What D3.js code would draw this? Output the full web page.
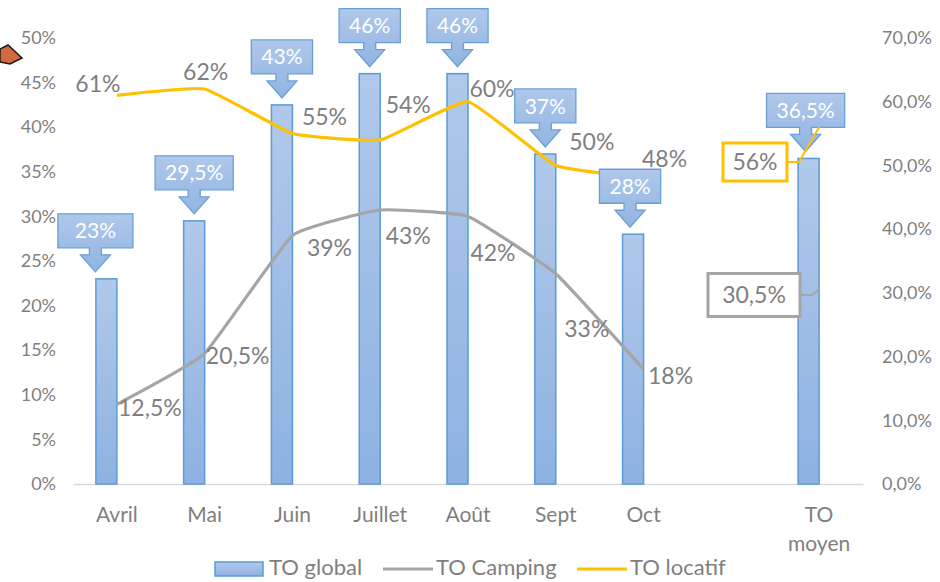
<!DOCTYPE html>
<html>
<head>
<meta charset="utf-8">
<script src="https://cdn.jsdelivr.net/npm/d3@7"></script>
<style>
  body { margin: 0; background: #fff; }
  svg text { font-family: Lato, "Open Sans", sans-serif; fill: #7f7f7f; }
</style>
</head>
<body>
<div id="chart"></div>
<script>
const width = 940, height = 582;

// data
const categories = ["Avril", "Mai", "Juin", "Juillet", "Août", "Sept", "Oct", "", "TO moyen"];
const months = ["Avril", "Mai", "Juin", "Juillet", "Août", "Sept", "Oct"];
const toGlobal = [23, 29.5, 42.5, 46, 46, 37, 28, null, 36.5];
const toGlobalLabels = ["23%", "29,5%", "43%", "46%", "46%", "37%", "28%", "", "36,5%"];
const toCamping = [12.5, 20.5, 39, 43, 42, 33, 18];
const toCampingLabels = ["12,5%", "20,5%", "39%", "43%", "42%", "33%", "18%"];
const toLocatif = [61, 62, 55, 54, 60, 50, 48];
const toLocatifLabels = ["61%", "62%", "55%", "54%", "60%", "50%", "48%"];
const moyenCamping = 30.5, moyenCampingLabel = "30,5%";
const moyenLocatif = 56, moyenLocatifLabel = "56%";
const leftTicks = [0, 5, 10, 15, 20, 25, 30, 35, 40, 45, 50];
const rightTicks = [0, 10, 20, 30, 40, 50, 60, 70];

// label placement (offset from the point)
const locatifOffsets = [[-19, -11], [1, -17], [32, -17], [28, -35], [24, -13], [36, -23], [21, -19]];
const campingOffsets = [[33, 4], [33, 3], [37, 12], [28, 26], [25, 37], [31, 55], [27, 7]];
const callShift = [-11, 0, 0, 0, 0, 0, -3, 0, -3];

const svg = d3.select("#chart").append("svg")
    .attr("width", width)
    .attr("height", height);

const defs = svg.append("defs");
const g1 = defs.append("linearGradient").attr("id", "barGrad").attr("x1", 0).attr("y1", 0).attr("x2", 0).attr("y2", 1);
g1.append("stop").attr("offset", "0%").attr("stop-color", "#b1c9ea");
g1.append("stop").attr("offset", "100%").attr("stop-color", "#8db2e2");
const g2 = defs.append("linearGradient").attr("id", "callGrad").attr("x1", 0).attr("y1", 0).attr("x2", 0).attr("y2", 1);
g2.append("stop").attr("offset", "0%").attr("stop-color", "#afc8ea");
g2.append("stop").attr("offset", "100%").attr("stop-color", "#90b4e2");

const x = d3.scaleBand()
    .domain(categories)
    .range([73, 863])
    .padding(0);

const yL = d3.scaleLinear().domain([0, 50]).range([484, 38]);
const yR = d3.scaleLinear().domain([0, 70]).range([484, 38]);

const cx = c => x(c) + x.bandwidth() / 2;
const barW = 21;

// left axis
const leftAxis = d3.axisLeft(yL).tickValues(leftTicks).tickSize(0).tickFormat(d => d + "%");
const gl = svg.append("g").attr("transform", "translate(56,0)").call(leftAxis);
gl.select(".domain").remove();
gl.selectAll("text").style("font-size", "18px").attr("x", 0);

// right axis
const rightAxis = d3.axisRight(yR).tickValues(rightTicks).tickSize(0)
    .tickFormat(d => d3.format(".1f")(d).replace(".", ",") + "%");
const gr = svg.append("g").attr("transform", "translate(882,0)").call(rightAxis);
gr.select(".domain").remove();
gr.selectAll("text").style("font-size", "18px").attr("x", 0);

// bottom axis
const bottomAxis = d3.axisBottom(x).tickSize(0).tickFormat("");
const gb = svg.append("g").attr("transform", "translate(0,484)").call(bottomAxis);
gb.select(".domain").attr("stroke", "#d9d9d9").attr("stroke-width", 1.3);

categories.forEach(c => {
    if (!c) return;
    const parts = c === "TO moyen" ? ["TO", "moyen"] : [c];
    parts.forEach((p, i) => {
        svg.append("text")
            .attr("x", cx(c))
            .attr("y", 522 + i * 29)
            .attr("text-anchor", "middle")
            .style("font-size", "21px")
            .text(p);
    });
});

// bars
const barData = categories.map((c, i) => ({ c, v: toGlobal[i], label: toGlobalLabels[i], shift: callShift[i] }))
    .filter(d => d.v != null);

svg.selectAll("rect.bar")
    .data(barData)
    .enter().append("rect")
    .attr("class", "bar")
    .attr("x", d => cx(d.c) - barW)
    .attr("y", d => yL(d.v))
    .attr("width", barW)
    .attr("height", d => yL(0) - yL(d.v))
    .attr("fill", "url(#barGrad)")
    .attr("stroke", "#5b9bd5")
    .attr("stroke-width", 1.5);

// lines
const line = d3.line()
    .x(d => cx(d[0]))
    .y(d => yR(d[1]))
    .curve(d3.curveCardinal.tension(0.65));

const campPts = months.map((m, i) => [m, toCamping[i]]);
const locPts = months.map((m, i) => [m, toLocatif[i]]);

svg.append("path").datum(campPts)
    .attr("d", line)
    .attr("fill", "none")
    .attr("stroke", "#a5a5a5")
    .attr("stroke-width", 3.2);

svg.append("path").datum(locPts)
    .attr("d", line)
    .attr("fill", "none")
    .attr("stroke", "#ffc000")
    .attr("stroke-width", 3.2);

// line labels
svg.selectAll("text.loc")
    .data(locPts)
    .enter().append("text")
    .attr("class", "loc")
    .attr("x", (d, i) => cx(d[0]) + locatifOffsets[i][0])
    .attr("y", (d, i) => yR(d[1]) + locatifOffsets[i][1])
    .attr("text-anchor", "middle")
    .attr("dy", "0.35em")
    .style("font-size", "23px")
    .text((d, i) => toLocatifLabels[i]);

svg.selectAll("text.camp")
    .data(campPts)
    .enter().append("text")
    .attr("class", "camp")
    .attr("x", (d, i) => cx(d[0]) + campingOffsets[i][0])
    .attr("y", (d, i) => yR(d[1]) + campingOffsets[i][1])
    .attr("text-anchor", "middle")
    .attr("dy", "0.35em")
    .style("font-size", "23px")
    .text((d, i) => toCampingLabels[i]);

// callouts on bars
const callH = 34, stemH = 7, stemW = 12, triH = 17, triW = 30, gap = 7;
barData.forEach(d => {
    const c = cx(d.c) - barW / 2 + d.shift;
    const tip = yL(d.v) - gap;
    const boxB = tip - triH - stemH;
    const boxT = boxB - callH;
    const tmp = svg.append("text").style("font-size", "21px").text(d.label);
    const tw = tmp.node().getComputedTextLength();
    tmp.remove();
    const bw = d.c === "Avril" ? 75 : tw + 20;
    const pts = [
        [c - bw / 2, boxT], [c + bw / 2, boxT], [c + bw / 2, boxB],
        [c + stemW / 2, boxB], [c + stemW / 2, boxB + stemH], [c + triW / 2, boxB + stemH],
        [c, tip], [c - triW / 2, boxB + stemH], [c - stemW / 2, boxB + stemH],
        [c - stemW / 2, boxB], [c - bw / 2, boxB]
    ];
    svg.append("polygon")
        .attr("points", pts.map(p => p.join(",")).join(" "))
        .attr("fill", "url(#callGrad)")
        .attr("stroke", "#6a9fd6")
        .attr("stroke-width", 1.3);
    svg.append("text")
        .attr("x", c)
        .attr("y", boxT + callH / 2)
        .attr("dy", "0.36em")
        .attr("text-anchor", "middle")
        .style("font-size", "21px")
        .style("fill", "#fff")
        .text(d.label);
});

// TO moyen boxed labels with leader lines
const mx = cx("TO moyen");
function boxedLabel(v, label, color, bx, by, bw, bh) {
    const py = yR(v);
    svg.append("path")
        .attr("d", `M${bx + bw / 2},${by} L${bx + bw / 2 + 12},${by} L${mx},${py}`)
        .attr("fill", "none")
        .attr("stroke", color)
        .attr("stroke-width", 2);
    svg.append("rect")
        .attr("x", bx - bw / 2).attr("y", by - bh / 2)
        .attr("width", bw).attr("height", bh)
        .attr("fill", "#fff")
        .attr("stroke", color)
        .attr("stroke-width", 3);
    svg.append("text")
        .attr("x", bx).attr("y", by)
        .attr("dy", "0.35em")
        .attr("text-anchor", "middle")
        .style("font-size", "23px")
        .text(label);
}
boxedLabel(moyenLocatif, moyenLocatifLabel, "#ffc000", 755, 162, 64, 38);
boxedLabel(moyenCamping, moyenCampingLabel, "#a5a5a5", 754, 295, 92, 43);

// stray arrow shape at top left
svg.append("polygon")
    .attr("points", "0,49 8,45 22,58 10,64 0,62")
    .attr("fill", "#d2693f")
    .attr("stroke", "#1a1a1a")
    .attr("stroke-width", 1.5);

// legend
const legend = svg.append("g").attr("transform", "translate(0,567)");
legend.append("rect").attr("x", 215).attr("y", -5).attr("width", 48).attr("height", 14)
    .attr("fill", "url(#barGrad)").attr("stroke", "#5b9bd5").attr("stroke-width", 1.5);
legend.append("text").attr("x", 269).attr("y", 0).attr("dy", "0.35em").style("font-size", "22px").text("TO global");
legend.append("line").attr("x1", 383).attr("x2", 433).attr("y1", 2).attr("y2", 2)
    .attr("stroke", "#a5a5a5").attr("stroke-width", 3.2);
legend.append("text").attr("x", 436).attr("y", 0).attr("dy", "0.35em").style("font-size", "22px").text("TO Camping");
legend.append("line").attr("x1", 577).attr("x2", 627).attr("y1", 2).attr("y2", 2)
    .attr("stroke", "#ffc000").attr("stroke-width", 3.2);
legend.append("text").attr("x", 630).attr("y", 0).attr("dy", "0.35em").style("font-size", "22px").text("TO locatif");
</script>
</body>
</html>
